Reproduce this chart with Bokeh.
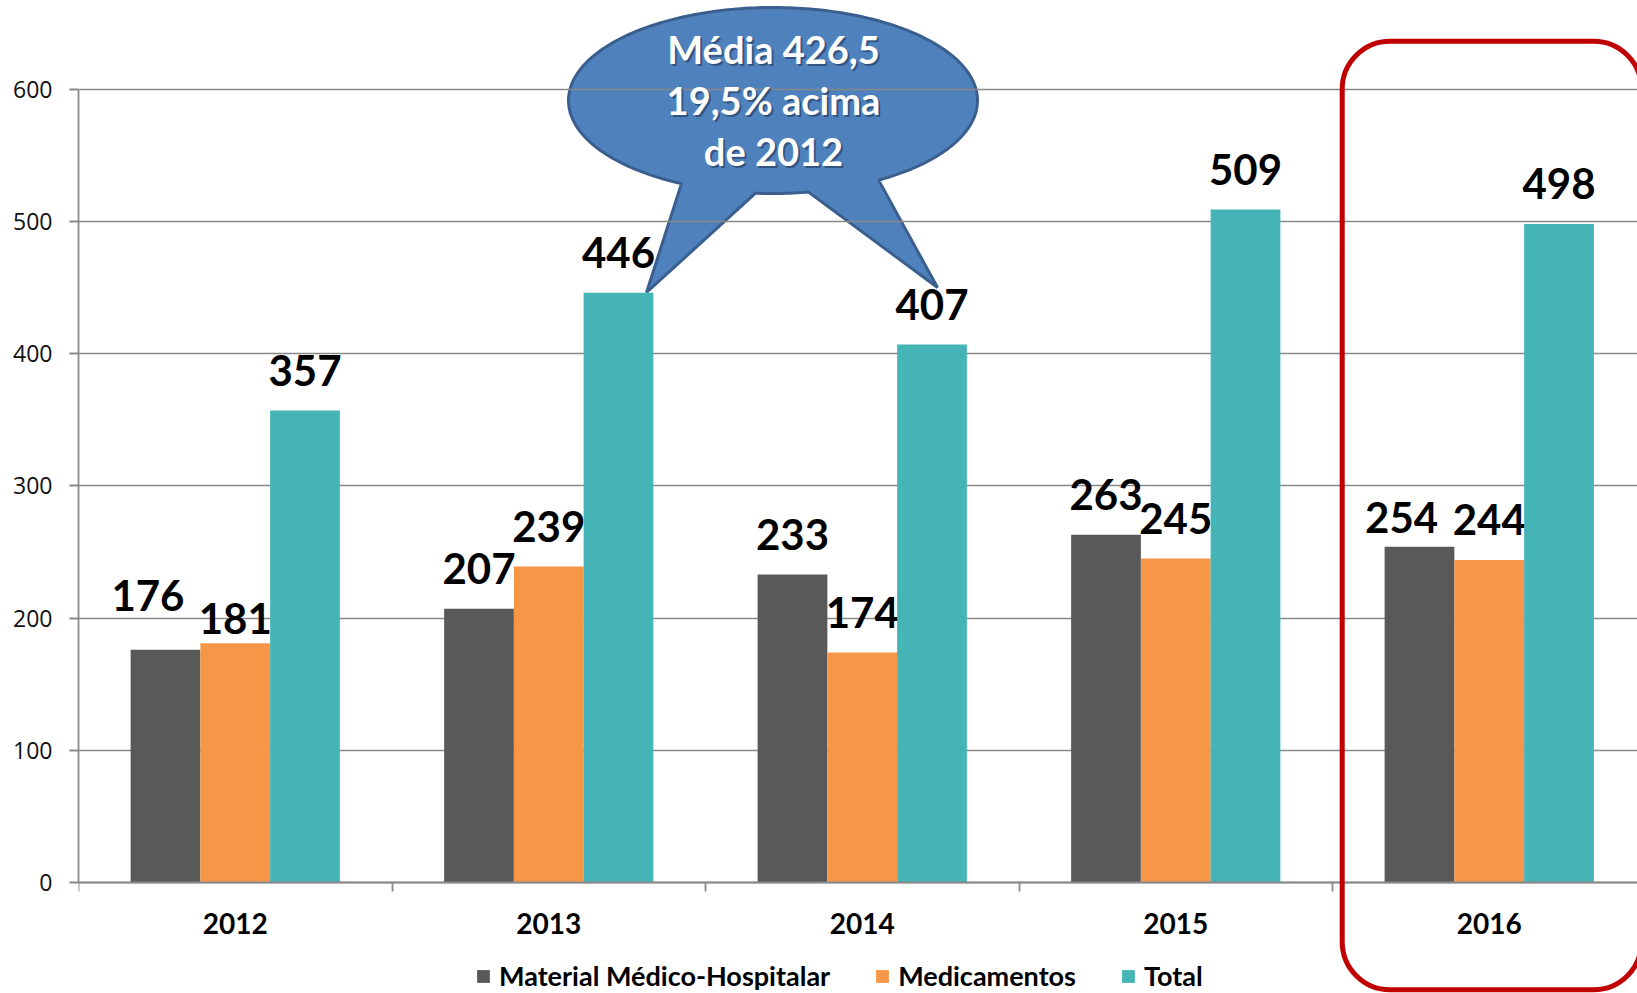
import numpy as np
from bokeh.plotting import figure
from bokeh.models import Range1d, FixedTicker, Legend, LegendItem, BoxAnnotation, LinearAxis
from bokeh.core.properties import value
from bokeh.embed import file_html
from bokeh.resources import INLINE

# ---------------- data ----------------
categories = ["2012", "2013", "2014", "2015", "2016"]
material = [176, 207, 233, 263, 254]
medicamentos = [181, 239, 174, 245, 244]
total = [357, 446, 407, 509, 498]
y_ticks = [0, 100, 200, 300, 400, 500, 600]
series_names = ["Material Médico-Hospitalar", "Medicamentos", "Total"]
callout_lines = ["Média 426,5", "19,5% acima", "de 2012"]

# ---------------- layout / style ----------------
FIG_W, FIG_H = 1637, 993
FRAME_LEFT = 78          # px: page x of data x = 0
ZERO_Y = 882             # px: page y of data y = 0
PX_X = 313.5             # px per category
PX_Y = (882 - 88.7) / 600.0
X_END = (FIG_W - FRAME_LEFT) / PX_X
Y_END = ZERO_Y / PX_Y
Y_START = -(FIG_H - ZERO_Y) / PX_Y


def ux(X):
    return (np.asarray(X, dtype=float) - FRAME_LEFT) / PX_X


def vy(Y):
    return (ZERO_Y - np.asarray(Y, dtype=float)) / PX_Y


colors = ["#595959", "#F79646", "#45B4B6"]
bar_w = 0.2225
offsets = [-bar_w, 0.0, bar_w]
label_gap = 30.4
# manual nudges of a few labels (category units, value units)
nudge_dx = [[-0.056, 0, 0, 0, -0.057], [0] * 5, [0] * 5]
nudge_dy = [[10.4, 0, 0, 0, -8.7], [-11.6, 0, 0, 0, 0], [0] * 5]

GRID = "#898989"
BOLD_FONT = "Lato"

p = figure(width=FIG_W, height=FIG_H,
           x_range=Range1d(0, X_END), y_range=Range1d(Y_START, Y_END),
           output_backend="svg", toolbar_location=None, x_axis_location=None,
           min_border_left=FRAME_LEFT, min_border_right=0,
           min_border_top=0, min_border_bottom=0,
           outline_line_color=None, background_fill_color="white")

# ---------------- callout bubble (behind grid) ----------------
cx, cy, a, b = 772.5, 100.0, 204.5, 93.0


def arc(t0, t1, n=60):
    t = np.radians(np.linspace(t0, t1, n))
    return list(cx + a * np.cos(t)), list(cy + b * np.sin(t))


px, py = [], []
for seg in [arc(0, 58.9), ([937], [287]), arc(80.0, 94.9, 15), ([646], [292]), arc(116.6, 360, 200)]:
    px += list(seg[0])
    py += list(seg[1])
bubble = p.patch(ux(px), vy(py), fill_color="#4F81BD", line_color="#3A5F8F", line_width=3)
bubble.level = "image"

# ---------------- bars ----------------
centers = np.arange(len(categories)) + 0.5
renderers = []
for vals, off, col, dxs, dys in zip([material, medicamentos, total], offsets, colors, nudge_dx, nudge_dy):
    xs = centers + off
    r = p.vbar(x=xs, top=vals, width=bar_w, fill_color=col, line_color=None)
    renderers.append(r)
    p.text(x=xs + np.array(dxs), y=np.array(vals) + label_gap + np.array(dys),
           text=[str(v) for v in vals], text_align="center", text_baseline="middle",
           text_font=value(BOLD_FONT), text_font_style="bold", text_font_size="42px",
           text_color="black")

# ---------------- callout text ----------------
tx = [float(ux(773))] * 3
ty = list(vy([48, 99, 150]))
p.text(x=tx, y=ty, text=callout_lines, x_offset=2, y_offset=2,
       text_align="center", text_baseline="middle",
       text_font=value(BOLD_FONT), text_font_style="bold", text_font_size="38px",
       text_color="#1C2E4A", text_alpha=0.55)
p.text(x=tx, y=ty, text=callout_lines,
       text_align="center", text_baseline="middle",
       text_font=value(BOLD_FONT), text_font_style="bold", text_font_size="38px",
       text_color="white")

# ---------------- highlight box ----------------
box = BoxAnnotation(left=float(ux(1341.7)), right=float(ux(1641)),
                    top=float(vy(40.7)), bottom=float(vy(989.3)),
                    fill_alpha=0, line_color="#C00000", line_alpha=1.0, line_width=5,
                    border_radius=48, level="overlay")
p.add_layout(box)

# ---------------- axes ----------------
xa = LinearAxis(fixed_location=0)
xa.ticker = FixedTicker(ticks=list(centers), minor_ticks=list(range(len(categories) + 1)))
xa.major_label_overrides = {float(c): cat for c, cat in zip(centers, categories)}
xa.major_tick_out = 0
xa.major_tick_in = 0
xa.major_tick_line_color = None
xa.minor_tick_out = 9
xa.minor_tick_in = 0
xa.minor_tick_line_color = GRID
xa.minor_tick_line_width = 1.8
xa.axis_line_color = GRID
xa.axis_line_width = 1.8
xa.major_label_text_font = BOLD_FONT
xa.major_label_text_font_style = "bold"
xa.major_label_text_font_size = "28px"
xa.major_label_text_color = "black"
xa.major_label_standoff = 21
p.add_layout(xa, "below")

ya = p.yaxis[0]
ya.ticker = FixedTicker(ticks=y_ticks, minor_ticks=[])
ya.bounds = (0, 600)
ya.major_tick_out = 9
ya.major_tick_in = 0
ya.major_tick_line_color = GRID
ya.major_tick_line_width = 1.8
ya.minor_tick_line_color = None
ya.axis_line_color = GRID
ya.axis_line_width = 1.8
ya.major_label_text_font = "Open Sans"
ya.major_label_text_font_size = "23px"
ya.major_label_text_color = "#111111"
ya.major_label_standoff = 17

p.xgrid.visible = False
p.ygrid.ticker = FixedTicker(ticks=y_ticks, minor_ticks=[])
p.ygrid.grid_line_color = GRID
p.ygrid.grid_line_width = 1.6

# ---------------- legend ----------------
legend = Legend(items=[LegendItem(label=n, renderers=[r]) for n, r in zip(series_names, renderers)],
                orientation="horizontal", location=(397, 1),
                glyph_width=16, glyph_height=16, label_standoff=8, spacing=44,
                padding=0, margin=0, border_line_color=None, background_fill_alpha=0,
                label_text_font=BOLD_FONT, label_text_font_style="bold",
                label_text_font_size="27px", label_text_color="black")
p.add_layout(legend, "center")

open("out.html", "w").write(file_html(p, INLINE))
